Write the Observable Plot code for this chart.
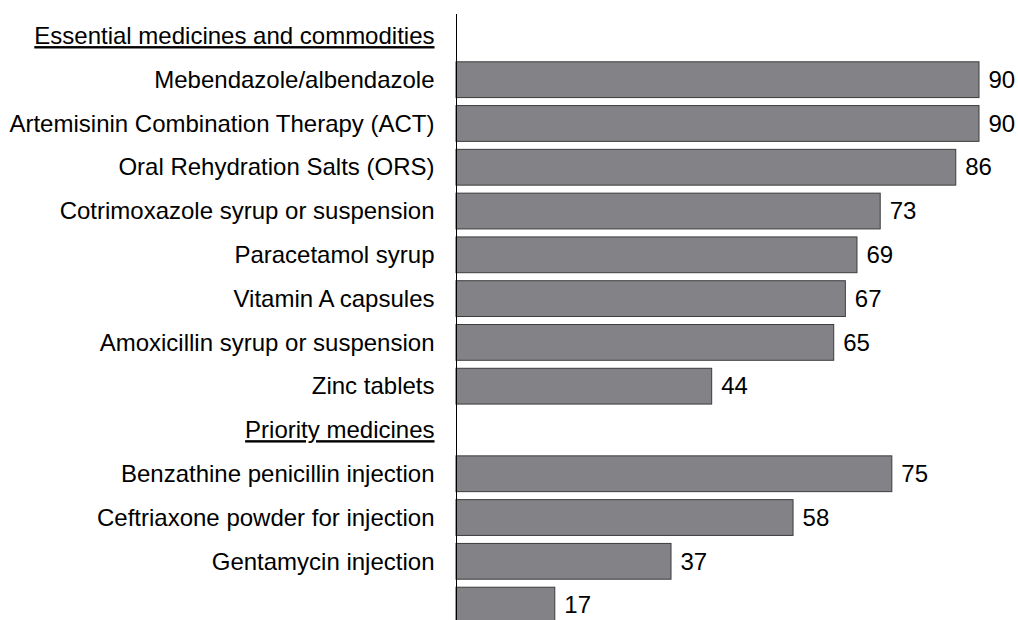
<!DOCTYPE html>
<html>
<head>
<meta charset="utf-8">
<script src="https://cdn.jsdelivr.net/npm/d3@7"></script>
<script src="https://cdn.jsdelivr.net/npm/@observablehq/plot@0.6"></script>
<style>
  html, body { margin: 0; padding: 0; background: #fff; }
  #chart svg { display: block; }
</style>
</head>
<body>
<div id="chart"></div>
<script>
const rowLabels = [
  "Essential medicines and commodities",
  "Mebendazole/albendazole",
  "Artemisinin Combination Therapy (ACT)",
  "Oral Rehydration Salts (ORS)",
  "Cotrimoxazole syrup or suspension",
  "Paracetamol syrup",
  "Vitamin A capsules",
  "Amoxicillin syrup or suspension",
  "Zinc tablets",
  "Priority medicines",
  "Benzathine penicillin injection",
  "Ceftriaxone powder for injection",
  "Gentamycin injection",
  ""
];
const headers = ["Essential medicines and commodities", "Priority medicines"];
const barLabels = [
  "Mebendazole/albendazole",
  "Artemisinin Combination Therapy (ACT)",
  "Oral Rehydration Salts (ORS)",
  "Cotrimoxazole syrup or suspension",
  "Paracetamol syrup",
  "Vitamin A capsules",
  "Amoxicillin syrup or suspension",
  "Zinc tablets",
  "Benzathine penicillin injection",
  "Ceftriaxone powder for injection",
  "Gentamycin injection",
  ""
];
const barValues = [90, 90, 86, 73, 69, 67, 65, 44, 75, 58, 37, 17];

const data = barLabels.map((label, i) => ({label, value: barValues[i]}));

const chart = Plot.plot({
  width: 1018,
  height: 627,
  marginLeft: 456,
  marginRight: 39,
  marginTop: 14,
  marginBottom: 0,
  style: {fontFamily: "Liberation Sans, Arial, sans-serif", fontSize: "24px", color: "#000", background: "#fff"},
  x: {domain: [0, 90], axis: null},
  y: {domain: rowLabels, padding: 0, round: false, label: null},
  marks: [
    Plot.axisY({tickSize: 0, tickPadding: 22, fontSize: 24, label: null, fill: "#000"}),
    Plot.barX(data, {x: "value", y: "label", fill: "#838387", stroke: "#3c3c3c", strokeWidth: 1, insetTop: 4, insetBottom: 4}),
    Plot.text(data, {x: "value", y: "label", text: d => String(d.value), textAnchor: "start", dx: 9, fontSize: 24, fill: "#000"}),
    Plot.ruleX([0], {stroke: "#000", strokeWidth: 1})
  ]
});

d3.select(chart).selectAll("text").filter(function() {
  return headers.includes(this.textContent);
}).style("text-decoration", "underline");

document.getElementById("chart").appendChild(chart);
</script>
</body>
</html>
